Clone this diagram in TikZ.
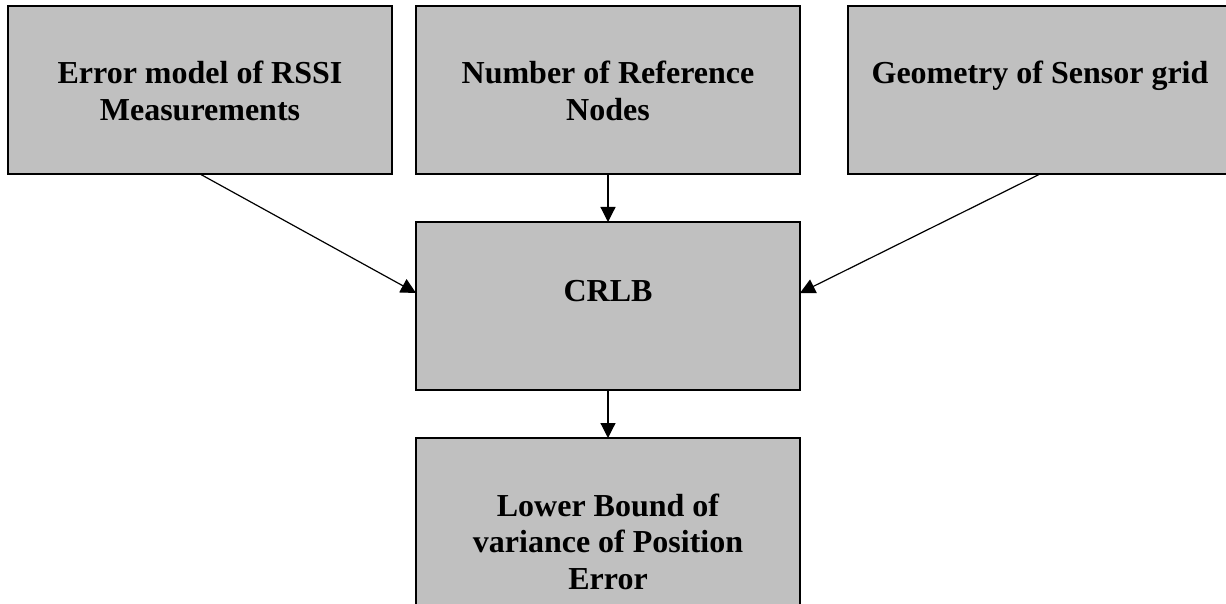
\documentclass[tikz,border=0pt]{standalone}
\usepackage{fontspec}
\setmainfont{Liberation Serif}
\usetikzlibrary{arrows.meta}
\definecolor{boxgray}{HTML}{C0C0C0}
\tikzset{
  blk/.style={draw=black, fill=boxgray, line width=1.5pt, minimum width=384pt, minimum height=168pt, inner sep=0pt, outer sep=0pt},
  lbl/.style={anchor=base, inner sep=0pt, font=\bfseries\fontsize{32}{36.5}\selectfont},
  conn/.style={line width=1.2pt, -{Triangle[length=15pt,width=15pt]}}
}
\newcommand{\boxtxt}[1]{\parbox[t]{380pt}{\centering #1}}
\begin{document}
\begin{tikzpicture}[x=1pt,y=-1pt]
\useasboundingbox (0,0) rectangle (1226,604);
\node[blk] (b1) at (200,90) {};
\node[blk] (b2) at (608,90) {};
\node[blk] (b3) at (1040,90) {};
\node[blk] (crlb) at (608,306) {};
\node[blk] (low) at (608,522) {};
\node[lbl] (t1) at ([yshift=-78pt]b1.north) {\boxtxt{Error model of RSSI\\Measurements}};
\node[lbl] (t2) at ([yshift=-78pt]b2.north) {\boxtxt{Number of Reference\\Nodes}};
\node[lbl] (t3) at ([yshift=-78pt]b3.north) {\boxtxt{Geometry of Sensor grid}};
\node[lbl] (t4) at ([yshift=-79pt]crlb.north) {\boxtxt{CRLB}};
\node[lbl] (t5) at ([yshift=-78pt]low.north) {\boxtxt{Lower Bound of\\variance of Position\\Error}};
\draw[conn] (b1.south) -- ([yshift=13pt]crlb.west);
\draw[conn] (b2.south) -- (crlb.north);
\draw[conn] (b3.south) -- ([yshift=13pt]crlb.east);
\draw[conn] (crlb.south) -- (low.north);
\end{tikzpicture}
\end{document}
